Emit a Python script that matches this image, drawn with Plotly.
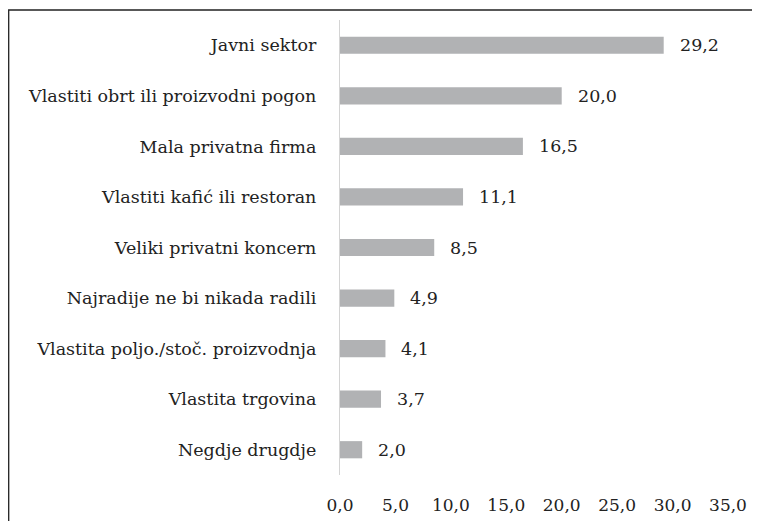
import plotly.graph_objects as go

categories = ["Javni sektor", "Vlastiti obrt ili proizvodni pogon", "Mala privatna firma",
              "Vlastiti kafić ili restoran", "Veliki privatni koncern",
              "Najradije ne bi nikada radili", "Vlastita poljo./stoč. proizvodnja",
              "Vlastita trgovina", "Negdje drugdje"]
values = [29.2, 20.0, 16.5, 11.1, 8.5, 4.9, 4.1, 3.7, 2.0]
x_ticks = [0, 5, 10, 15, 20, 25, 30, 35]

FONT = "DejaVu Serif"
FS = 17.5
PL, PT, PW, PH = 332, 12, 388, 455

fig = go.Figure(go.Bar(
    y=categories, x=values, orientation="h",
    marker=dict(color="#b1b2b4", line=dict(width=0)),
    width=0.34,
))

for c, v in zip(categories, values):
    fig.add_annotation(x=v, y=c, text=f"{v:.1f}".replace(".", ","), showarrow=False,
                       xanchor="left", xshift=14, font=dict(size=FS, color="#222", family=FONT))

x0 = (-PL + 0.7) / PW
y0 = 1 + 10 / PH
fig.add_shape(type="path", xref="paper", yref="paper",
              path=f"M {x0},-0.3 L {x0},{y0} L {1 + 31.5 / PW},{y0}",
              line=dict(color="#222", width=1.3))

fig.update_layout(
    width=752, height=513,
    margin=dict(l=PL, r=32, t=PT, b=46, autoexpand=False),
    paper_bgcolor="white", plot_bgcolor="white",
    separators=", ",
    showlegend=False,
    font=dict(family=FONT, size=FS, color="#222"),
    xaxis=dict(range=[0, 35], tickvals=x_ticks, tickformat=".1f", showgrid=False,
               zeroline=False, showline=False, ticks="", ticklabelstandoff=18,
               tickfont=dict(size=FS - 0.5, color="#222", family=FONT), fixedrange=True),
    yaxis=dict(autorange="reversed", showgrid=False, zeroline=False,
               showline=True, linecolor="#d4d4d4", linewidth=1.3,
               ticks="", ticklabelstandoff=19,
               tickfont=dict(size=FS, color="#222", family=FONT)),
)

fig.write_html("out.html")
